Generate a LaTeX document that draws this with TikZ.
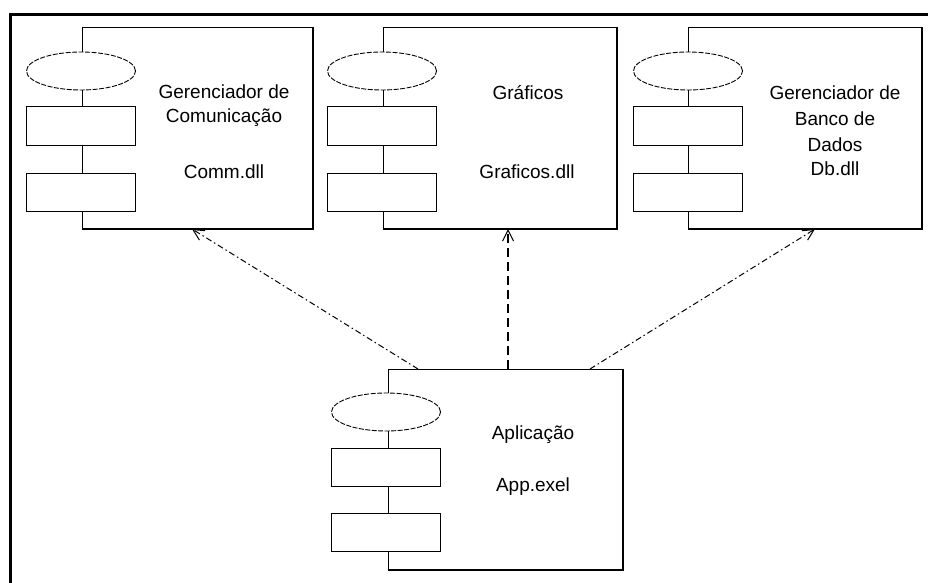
\documentclass[tikz,border=0pt]{standalone}
\usepackage{fontspec}
\setmainfont{Liberation Sans}
\usetikzlibrary{arrows.meta,shapes.geometric}
\begin{document}
\begin{tikzpicture}[x=1pt,y=-1pt,
  box/.style={draw,line width=1pt,inner sep=0pt,outer sep=0pt,anchor=north west,minimum width=#1,minimum height=201pt},
  oval/.style={draw,fill=white,ellipse,line width=0.9pt,dash pattern=on 5pt off 1.5pt,inner sep=0pt,minimum width=109pt,minimum height=38pt},
  part/.style={draw,fill=white,line width=1pt,inner sep=0pt,minimum width=109pt,minimum height=38pt},
  lbl/.style={font=\fontsize{19}{26}\selectfont,align=center,inner sep=0pt},
  dep/.style={line width=1pt,dash pattern=on 6pt off 3pt on 1.5pt off 3pt,-{Straight Barb[length=11pt,width=11pt]}},
  depm/.style={line width=1.8pt,dash pattern=on 9pt off 5pt,-{Straight Barb[length=11pt,width=11pt,line width=1pt]}}
]
\useasboundingbox (0,0) rectangle (928,583);
% frame
\draw[line width=3pt] (10,583) -- (10,15) -- (928,15);

% box 1
\node[box=231pt] (comm) at (82,28) {};
\draw[line width=2pt] (comm.north east) -- (comm.south east) -- (comm.south west);
\node[oval] (o1) at (81,71) {};
\node[part] (r1a) at (81,126) {};
\node[part] (r1b) at (81,192) {};
\node[lbl] (t1a) at (224,92) {Gerenciador de};
\node[lbl] (t1b) at (224,118) {Comunicação};
\node[lbl] (t1c) at (224,172) {Comm.dll};

% box 2
\node[box=234pt] (graf) at (383,28) {};
\draw[line width=2pt] (graf.north east) -- (graf.south east) -- (graf.south west);
\node[oval] (o2) at (382,71) {};
\node[part] (r2a) at (382,126) {};
\node[part] (r2b) at (382,192) {};
\node[lbl] (t2a) at (528,93) {Gráficos};
\node[lbl] (t2b) at (527,172) {Graficos.dll};

% box 3
\node[box=234pt] (db) at (688,28) {};
\draw[line width=2pt] (db.north east) -- (db.south east) -- (db.south west);
\node[oval] (o3) at (688,71) {};
\node[part] (r3a) at (688,126) {};
\node[part] (r3b) at (688,192) {};
\node[lbl] (t3a) at (835,93) {Gerenciador de};
\node[lbl] (t3b) at (835,119) {Banco de};
\node[lbl] (t3c) at (835,145) {Dados};
\node[lbl] (t3d) at (835,169) {Db.dll};

% bottom box
\node[box=235pt] (app) at (388,369) {};
\draw[line width=2pt] (app.north east) -- (app.south east) -- (app.south west);
\node[oval] (o4) at (386,412) {};
\node[part] (r4a) at (386,467) {};
\node[part] (r4b) at (386,532) {};
\node[lbl] (t4a) at (533,435) {Aplicação};
\node[lbl] (t4b) at (533,487) {App.exel};

% dependencies
\draw[dep] ([xshift=30pt]app.north west) -- ([xshift=110pt]comm.south west);
\draw[depm] ([xshift=120pt]app.north west) -- ([xshift=125pt]graf.south west);
\draw[dep] ([xshift=202pt]app.north west) -- ([xshift=127pt]db.south west);
\end{tikzpicture}
\end{document}
